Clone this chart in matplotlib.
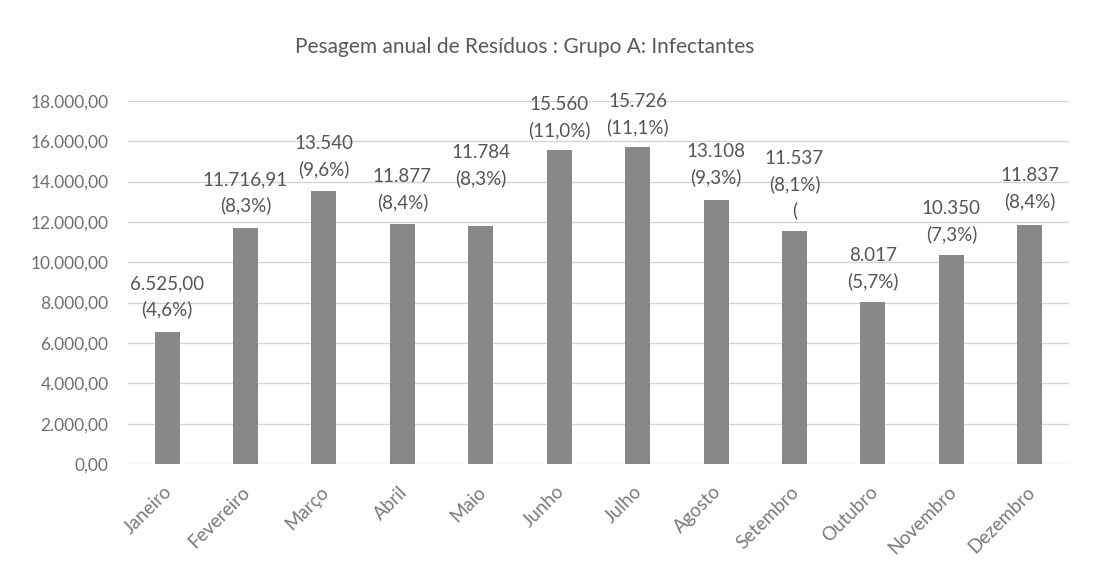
import matplotlib.pyplot as plt
import numpy as np

meses = ['Janeiro', 'Fevereiro', 'Março', 'Abril', 'Maio', 'Junho', 'Julho',
         'Agosto', 'Setembro', 'Outubro', 'Novembro', 'Dezembro']
pesos = [6525.00, 11716.91, 13540, 11877, 11784, 15560, 15726,
         13108, 11537, 8017, 10350, 11837]
rotulos = ['6.525,00\n(4,6%)', '11.716,91\n(8,3%)', '13.540\n(9,6%)',
           '11.877\n(8,4%)', '11.784\n(8,3%)', '15.560\n(11,0%)',
           '15.726\n(11,1%)', '13.108\n(9,3%)', '11.537\n(8,1%)\n(',
           '8.017\n(5,7%)', '10.350\n(7,3%)', '11.837\n(8,4%)']
# distancia (px) entre topo da barra e o rotulo
afastamento = [14, 13, 13, 13, 39, 11, 11, 13, 12, 12, 12, 15]

plt.rcParams['font.family'] = ['Lato', 'DejaVu Sans']

fig = plt.figure(figsize=(10.93, 5.70), dpi=100)
ax = fig.add_axes([0.117, 0.186, 0.861, 0.637])

x = np.arange(len(meses))
ax.bar(x, pesos, width=0.32, color='#888888', zorder=3)

for xi, v, r, d in zip(x, pesos, rotulos, afastamento):
    ax.annotate(r, (xi, v), xytext=(0, d), textcoords='offset pixels',
                ha='center', va='bottom', fontsize=13.5, color='#555555',
                linespacing=1.55)

ax.set_xlim(-0.5, len(meses) - 0.5)
ax.set_ylim(0, 18000)
ticks = np.arange(0, 18001, 2000)
ax.set_yticks(ticks)
ax.set_yticklabels(['{:,.2f}'.format(t).replace(',', 'X').replace('.', ',').replace('X', '.')
                    for t in ticks], fontsize=12.5, color='#707070')
ax.set_xticks(x)
ax.set_xticklabels([])
# nomes dos meses inclinados
for xi, m in zip(x, meses):
    ax.annotate(m, (xi, 0), xycoords=('data', 'axes fraction'),
                xytext=(2, -25), textcoords='offset pixels',
                rotation=45, ha='right', va='center', rotation_mode='anchor',
                fontsize=13.5, color='#7a7a7a')
ax.tick_params(length=0)
ax.tick_params(axis='y', pad=14)
ax.grid(axis='y', color='#d4d4d4', linewidth=1, zorder=0)
for s in ax.spines.values():
    s.set_visible(False)

fig.text(0.48, 0.917, 'Pesagem anual de Resíduos : Grupo A: Infectantes',
         ha='center', va='center', fontsize=15, color='#595959')

fig.savefig('out.png', dpi=100)
